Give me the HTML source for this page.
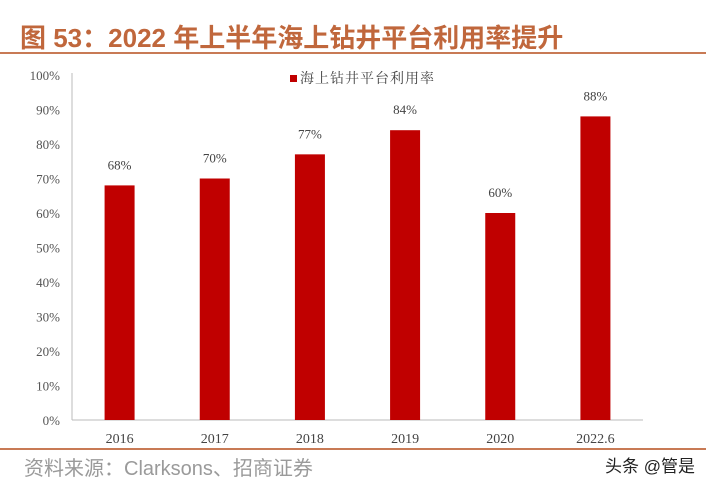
<!DOCTYPE html>
<html><head><meta charset="utf-8"><style>
body{margin:0;background:#fff;width:713px;height:490px;overflow:hidden;position:relative;font-family:"Liberation Sans","Noto Sans CJK SC",sans-serif}
.t{position:absolute;left:20px;top:18px;font-size:26px;font-weight:bold;color:#c0673c;white-space:nowrap;letter-spacing:0px}
.l1{position:absolute;left:0;top:52px;width:706px;height:2px;background:#c87a55}
.l2{position:absolute;left:0;top:448px;width:706px;height:2px;background:#c87a55}
.src{position:absolute;left:24px;top:452px;font-size:20px;color:#9a9a9a;white-space:nowrap}
.wm{position:absolute;left:605px;top:452px;font-size:17px;color:#222;white-space:nowrap}
svg{position:absolute;left:0;top:0}
</style></head><body>
<div class="t">图 53：2022 年上半年海上钻井平台利用率提升</div>
<div class="l1"></div>
<svg id="c" width="713" height="490"></svg>
<div class="l2"></div>
<div class="src">资料来源：Clarksons、招商证券</div>
<div class="wm">头条 @管是</div>
<script>
const categories=["2016","2017","2018","2019","2020","2022.6"];
const values=[68,70,77,84,60,88];
const yTicks=[0,10,20,30,40,50,60,70,80,90,100];
const NS="http://www.w3.org/2000/svg";
const svg=document.getElementById('c');
const x0=72,x1=643,y0=420,y100=75;
const y=v=>y0-(y0-y100)*v/100;
const bw=(x1-x0)/categories.length;
const xc=i=>x0+bw*(i+0.5);
function mk(t,a,txt){const e=document.createElementNS(NS,t);for(const k in a)e.setAttribute(k,a[k]);if(txt!=null)e.textContent=txt;svg.appendChild(e);return e;}
const font='"Liberation Serif","Noto Serif CJK SC",serif';
yTicks.forEach(v=>{const e=mk('text',{x:60,y:y(v)+5,'text-anchor':'end','font-size':13,fill:'#555','font-family':font},v+'%');

});
const ax=mk('line',{x1:x0,y1:y100-2,x2:x0,y2:y0,stroke:'#bbb','stroke-width':1});


const bx=mk('line',{x1:x0,y1:y0,x2:x1,y2:y0,stroke:'#bbb','stroke-width':1});


categories.forEach((c,i)=>{
const r=mk('rect',{x:xc(i)-15,y:y(values[i]),width:30,height:y0-y(values[i]),fill:'#c00000'});


const vl=mk('text',{x:xc(i),y:y(values[i])-16,'text-anchor':'middle','font-size':13,fill:'#444','font-family':font},values[i]+'%');


const xl=mk('text',{x:xc(i),y:443,'text-anchor':'middle','font-size':14,fill:'#444','font-family':font},c);


});
const ls=mk('rect',{x:290,y:75,width:7,height:7,fill:'#c00000'});


const lt=mk('text',{x:300,y:83,'font-size':14,fill:'#444','font-family':font,'letter-spacing':'1'},'海上钻井平台利用率');


</script>
</body></html>
